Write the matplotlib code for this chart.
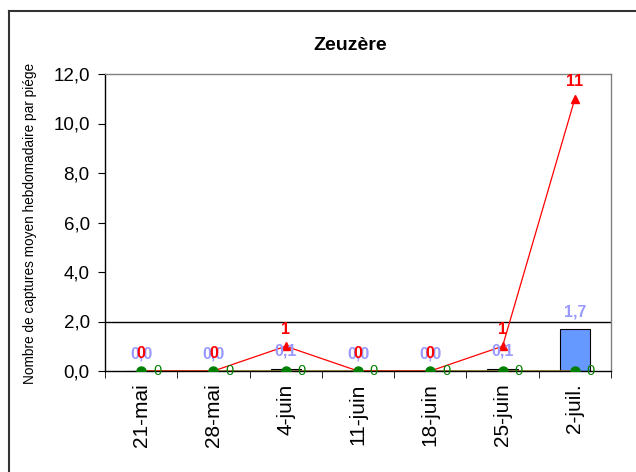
import matplotlib
matplotlib.use("Agg")
import matplotlib.pyplot as plt
from matplotlib.lines import Line2D
import numpy as np

categories = ["21-mai", "28-mai", "4-juin", "11-juin", "18-juin", "25-juin", "2-juil."]
bar_values = [0.0, 0.0, 0.1, 0.0, 0.0, 0.1, 1.7]
red_values = [0, 0, 1, 0, 0, 1, 11]
green_values = [0, 0, 0, 0, 0, 0, 0]
brown_values = [0, 0, 0, 0, 0, 0, 0]
y_ticks = [0, 2, 4, 6, 8, 10, 12]
y_tick_labels = ["0,0", "2,0", "4,0", "6,0", "8,0", "10,0", "12,0"]

plt.rcParams['font.family'] = ['Liberation Sans', 'DejaVu Sans']

fig = plt.figure(figsize=(6.36, 4.72), dpi=100)
W, H = 636, 472
ax = fig.add_axes([105 / W, 1 - 371 / H, (611 - 105) / W, (371 - 74) / H])

x = np.arange(len(categories))
ax.bar(x, bar_values, width=0.42, color="#6699FF", edgecolor="black", linewidth=0.8, zorder=2)

# reference line at 2.0
ax.axhline(2.0, color="black", linewidth=1.0, zorder=1)

ax.plot(x, brown_values, color="#996633", linewidth=1.2, zorder=3)
ax.plot(x, red_values, color="#FF0000", linewidth=0.9, marker="^", markersize=6,
        markerfacecolor="#FF0000", markeredgecolor="#FF0000", zorder=4)
ax.plot(x, green_values, color="#008000", linewidth=0.9, marker="o", markersize=6.5,
        markerfacecolor="#008000", markeredgecolor="#008000", zorder=5)

# labels
for xi, v in zip(x, bar_values):
    ax.annotate(f"{v:.1f}".replace(".", ","), (xi, v), xytext=(0, 7), textcoords="offset points",
                ha="center", va="bottom", fontsize=11.5, color="#9999FF", fontweight="bold", zorder=6)
for xi, v in zip(x, red_values):
    ax.annotate(f"{v}", (xi, v), xytext=(0, 7), textcoords="offset points",
                ha="center", va="bottom", fontsize=11.5, color="#FF0000", fontweight="bold", zorder=7)
for xi, v in zip(x, green_values):
    ax.annotate(f"{v}", (xi, v), xytext=(11.5, 0), textcoords="offset points",
                ha="center", va="center", fontsize=10.5, color="#008000", zorder=7)

ax.set_xlim(-0.5, len(categories) - 0.5)
ax.set_ylim(0, 12)
ax.set_yticks(y_ticks)
ax.set_yticklabels(y_tick_labels, fontsize=13.5)
ax.set_xticks(x)
ax.set_xticklabels(categories, rotation=90, fontsize=15)
ax.tick_params(axis="x", length=0, pad=9)
ax.set_xticks(np.arange(-0.5, len(categories), 1), minor=True)
ax.tick_params(axis="x", which="minor", length=5, direction="out", color="black")
ax.tick_params(axis="y", length=5, direction="out", color="black", pad=6)

for s in ["top", "right"]:
    ax.spines[s].set_color("#808080")
    ax.spines[s].set_linewidth(1.0)
for s in ["left", "bottom"]:
    ax.spines[s].set_color("black")
    ax.spines[s].set_linewidth(1.0)

fig.text(30 / W, 1 - 223 / H, "Nombre de captures moyen hebdomadaire par piége",
         rotation=90, ha="center", va="center", fontsize=9.8)

fig.text(350 / W, 1 - 45 / H, "Zeuzère", ha="center", va="center", fontsize=14, fontweight="bold")

# outer border (left and top edges visible)
fig.add_artist(Line2D([9 / W, 9 / W], [0, 1 - 11 / H], transform=fig.transFigure, color="#333333", linewidth=1.5))
fig.add_artist(Line2D([9 / W, 1], [1 - 11 / H, 1 - 11 / H], transform=fig.transFigure, color="#333333", linewidth=1.5))

fig.savefig("out.png", dpi=100)
